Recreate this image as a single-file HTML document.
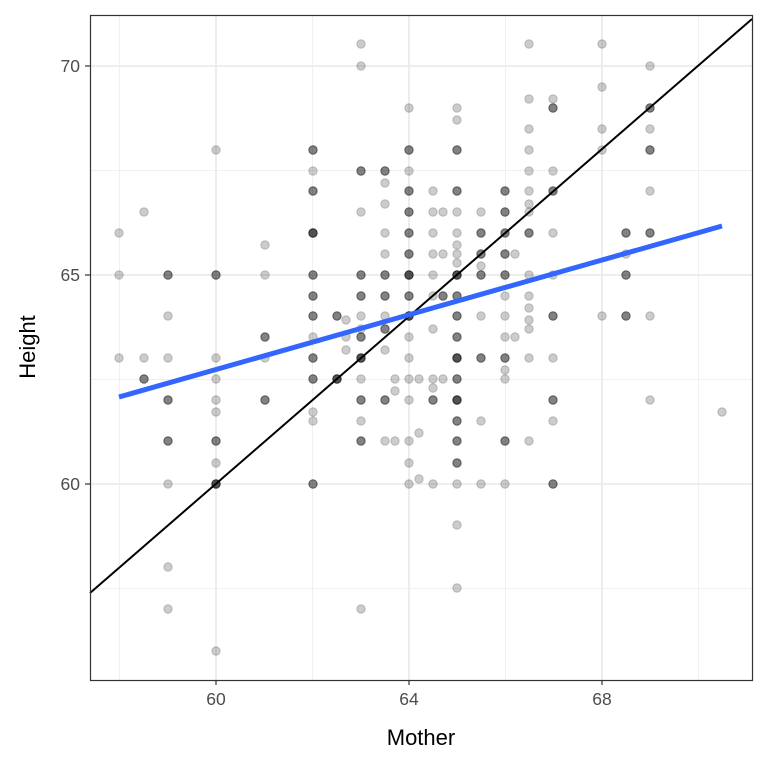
<!DOCTYPE html>
<html><head><meta charset="utf-8"><style>
body{margin:0;background:#fff}
svg{display:block;font-family:"Liberation Sans",sans-serif}
</style></head><body>
<svg id="s" width="768" height="768" xmlns="http://www.w3.org/2000/svg">
<rect width="768" height="768" fill="#fff"/>
<g stroke="#F0F0F0" stroke-width="1">
<line x1="119.5" x2="119.5" y1="15" y2="680"/><line x1="312.5" x2="312.5" y1="15" y2="680"/><line x1="505.5" x2="505.5" y1="15" y2="680"/><line x1="698.5" x2="698.5" y1="15" y2="680"/>
<line x1="90" x2="752" y1="170.5" y2="170.5"/><line x1="90" x2="752" y1="379.5" y2="379.5"/><line x1="90" x2="752" y1="588.5" y2="588.5"/>
</g>
<g stroke="#EBEBEB" stroke-width="1.8">
<line x1="216" x2="216" y1="15" y2="680"/><line x1="409" x2="409" y1="15" y2="680"/><line x1="602" x2="602" y1="15" y2="680"/>
<line x1="90" x2="752" y1="66" y2="66"/><line x1="90" x2="752" y1="275" y2="275"/><line x1="90" x2="752" y1="484" y2="484"/>
</g>
<g id="pts"></g>
<line x1="90" y1="593" x2="752" y2="19" stroke="#000" stroke-width="2"/>
<line x1="119" y1="397" x2="722" y2="226" stroke="#3366FF" stroke-width="5"/>
<rect x="90.5" y="15.5" width="662" height="665" fill="none" stroke="#333" stroke-width="1.2"/>
<g stroke="#333" stroke-width="1.2">
<line x1="216" x2="216" y1="680" y2="685"/><line x1="409" x2="409" y1="680" y2="685"/><line x1="602" x2="602" y1="680" y2="685"/>
<line x1="85" x2="90" y1="66" y2="66"/><line x1="85" x2="90" y1="275" y2="275"/><line x1="85" x2="90" y1="484" y2="484"/>
</g>
<g fill="#4D4D4D" font-size="17.5">
<text x="80" y="72" text-anchor="end">70</text><text x="80" y="281" text-anchor="end">65</text><text x="80" y="490" text-anchor="end">60</text>
<text x="216" y="705" text-anchor="middle">60</text><text x="409" y="705" text-anchor="middle">64</text><text x="602" y="705" text-anchor="middle">68</text>
</g>
<text x="421" y="745" text-anchor="middle" font-size="22">Mother</text>
<text transform="translate(35,347) rotate(-90)" text-anchor="middle" font-size="22">Height</text>
</svg>
<script>
var D={
119:"233,275,358",
144:"212,358,379:3",
168:"275:3,316,358,400:3,441:3,484,567,609",
216:"150,275:3,358,379,400,412,441:3,463,484:5,651",
265:"245,275,337:3,358,400:3",
313:"150:3,171,191:3,233:5,275:3,296:3,316:3,337,358:3,379:3,412,421,484:3",
337:"316:3,379:5",
346:"320,337,350",
361:"44,66,171:3,212,275:3,296:3,316,329,337:3,358:5,379,400:3,421,441:3,609",
385:"171:3,183,204,233,254,275:3,296:3,316,329:3,350,400:3,441",
395:"379,391,441",
409:"108,150:3,171,191:3,212:3,233:3,254:3,275:5,296:3,316:5,337,358,379,400,441,463,484",
419:"379,433,479",
433:"191,212,233,254,275,296,329,379,388,400:3,484",
443:"212,254,296:3,379",
457:"108,120,150:3,191:3,212,233,245,254,263,275:5,296:3,316:3,337:3,358:5,379:3,400:5,421:3,441:3,463:3,525,588,484",
481:"212,233:3,254:3,266,275:3,316,358:3,421,484",
505:"191:3,212:3,233:3,254:3,275:3,296,316,337,358:3,370,379,441:3,484",
515:"254,337",
529:"44,99,129,150,171,191,204,212,233:3,275,296,308,320,329,358,441",
553:"99,108:3,171,191:3,233,275,316:3,358,400:3,421,484:3",
602:"44,87,129,150,316",
626:"233:3,254,275:3,316:3",
650:"66,108:3,129,150:3,191,233:3,316,400",
722:"412"};
var g=document.getElementById('pts'),h='';
for(var x in D){D[x].split(',').forEach(function(p){var a=p.split(':'),n=+(a[1]||1);for(var i=0;i<n;i++)h+='<circle cx="'+x+'" cy="'+a[0]+'" r="4.2" fill="#000" fill-opacity="0.2" stroke="#000" stroke-opacity="0.2" stroke-width="1"/>';});}
g.innerHTML=h;
</script>
</body></html>
